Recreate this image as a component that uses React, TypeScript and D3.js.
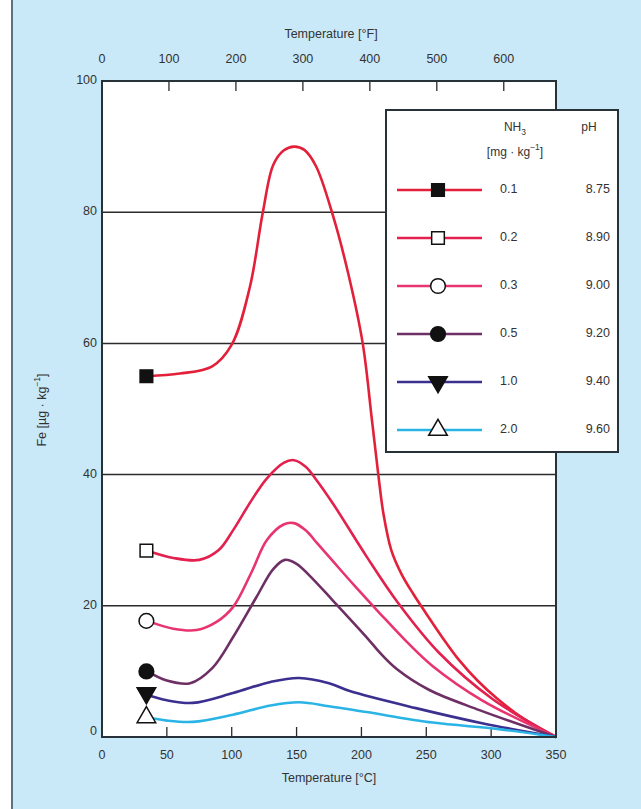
import { useEffect, useRef } from 'react';
import * as d3 from 'd3';

// temperature in °C, Fe in µg/kg
const series01: [number, number][] = [
  [35, 55], [60, 55.4], [85, 56.5], [100, 59.8], [114, 68.6], [124, 80], [132, 87.2],
  [140, 89.4], [148, 90], [156, 89.5], [165, 87], [178, 79.5], [190, 70.5], [201, 60],
  [208, 48.5], [213, 40], [217, 34], [223, 28.5], [231, 24.8], [240, 21.8], [250, 18.8],
  [262, 15.3], [275, 11.8], [290, 8.5], [305, 5.8], [325, 2.8], [350, 0],
];
const series02: [number, number][] = [
  [35, 28.4], [55, 27.3], [75, 27], [90, 28.5], [101, 31.5], [115, 36], [127, 39.4],
  [140, 41.8], [148, 42.2], [157, 41.2], [166, 39], [178, 35.6], [204, 27.5], [228, 20.5],
  [260, 12.8], [301, 5.8], [350, 0],
];
const series03: [number, number][] = [
  [35, 17.7], [55, 16.5], [73, 16.3], [88, 17.5], [101, 19.8], [115, 25], [127, 30],
  [140, 32.4], [148, 32.6], [157, 31.5], [166, 29.5], [178, 26.8], [195, 23], [214, 18.9],
  [235, 14.5], [255, 10.8], [293, 5.6], [350, 0],
];
const series05: [number, number][] = [
  [35, 10], [50, 8.6], [68, 8.2], [85, 10.5], [101, 15.2], [119, 21.3], [132, 25.6],
  [141, 27], [150, 26.4], [160, 24.6], [178, 20.8], [204, 15.2], [214, 12.9], [227, 10.4],
  [252, 7.2], [291, 4.1], [350, 0],
];
const series10: [number, number][] = [
  [35, 6.4], [50, 5.6], [70, 5.2], [101, 6.7], [130, 8.4], [152, 9], [175, 8.2],
  [191, 7], [242, 4.4], [293, 2.1], [350, 0],
];
const series20: [number, number][] = [
  [35, 3], [50, 2.5], [70, 2.3], [101, 3.4], [130, 4.8], [152, 5.3], [175, 4.7],
  [204, 3.8], [255, 2.2], [306, 1.2], [350, 0],
];

const nh3Labels = ['0.1', '0.2', '0.3', '0.5', '1.0', '2.0'];
const phLabels = ['8.75', '8.90', '9.00', '9.20', '9.40', '9.60'];
const celsiusTicks = [0, 50, 100, 150, 200, 250, 300, 350];
const fahrenheitTicks = [0, 100, 200, 300, 400, 500, 600];
const feTicks = [0, 20, 40, 60, 80, 100];

const FONT = '"Liberation Sans", Arial, sans-serif';

const App = () => {
  const ref = useRef<SVGSVGElement | null>(null);

  useEffect(() => {
    const svg = d3.select(ref.current);
    svg.selectAll('*').remove();

    const W = 641;
    const H = 809;
    const left = 102, right = 556, top = 81, bottom = 737;

    // figure background
    svg.append('rect').attr('width', W).attr('height', H).attr('fill', '#c9e9f9');
    svg.append('rect').attr('width', 11).attr('height', H).attr('fill', '#ffffff');
    svg.append('line').attr('x1', 12).attr('x2', 12).attr('y1', 0).attr('y2', H)
      .attr('stroke', '#3a4a50').attr('stroke-width', 1.5);

    const x = d3.scaleLinear().domain([0, 350]).range([left, right]);
    const xF = d3.scaleLinear().domain([0, 678]).range([left, right]);
    const y = d3.scaleLinear().domain([0, 100]).range([bottom, top]);

    svg.append('rect')
      .attr('x', left).attr('y', top)
      .attr('width', right - left).attr('height', bottom - top)
      .attr('fill', '#ffffff');

    // horizontal grid
    svg.append('g')
      .selectAll('line')
      .data(feTicks.filter((d) => d > 0 && d < 100))
      .enter()
      .append('line')
      .attr('x1', left).attr('x2', right)
      .attr('y1', (d) => y(d)).attr('y2', (d) => y(d))
      .attr('stroke', '#2b2b2b').attr('stroke-width', 1.5);

    // inward ticks
    svg.append('g')
      .selectAll('line')
      .data(celsiusTicks.filter((d) => d > 0 && d < 350))
      .enter()
      .append('line')
      .attr('x1', (d) => x(d)).attr('x2', (d) => x(d))
      .attr('y1', bottom).attr('y2', bottom - 10)
      .attr('stroke', '#2b2b2b').attr('stroke-width', 1.3);

    svg.append('g')
      .selectAll('line')
      .data(fahrenheitTicks.filter((d) => d > 0))
      .enter()
      .append('line')
      .attr('x1', (d) => xF(d)).attr('x2', (d) => xF(d))
      .attr('y1', top).attr('y2', top + 10)
      .attr('stroke', '#2b2b2b').attr('stroke-width', 1.3);

    const colors = ['#e3203a', '#e2214f', '#e8356f', '#6e2f64', '#3b2f8f', '#2ab4e6'];
    const allSeries = [series01, series02, series03, series05, series10, series20];

    const line = d3.line<[number, number]>()
      .x((d) => x(d[0]))
      .y((d) => y(d[1]))
      .curve(d3.curveCatmullRom.alpha(0.5));

    const curves = svg.append('g');
    allSeries.forEach((s, i) => {
      curves.append('path')
        .attr('d', line(s))
        .attr('fill', 'none')
        .attr('stroke', colors[i])
        .attr('stroke-width', 2.6);
    });

    // frame
    svg.append('rect')
      .attr('x', left).attr('y', top)
      .attr('width', right - left).attr('height', bottom - top)
      .attr('fill', 'none').attr('stroke', '#263238').attr('stroke-width', 2);

    const markerPath = (i: number) => {
      const types = [d3.symbolSquare, d3.symbolSquare, d3.symbolCircle, d3.symbolCircle, d3.symbolTriangle, d3.symbolTriangle];
      const sizes = [160, 160, 170, 170, 150, 150];
      return d3.symbol().type(types[i]).size(sizes[i])() as string;
    };
    const markerFill = ['#111', '#fff', '#fff', '#111', '#111', '#fff'];
    const markerRot = [0, 0, 0, 0, 180, 0];

    const drawMarker = (g: any, i: number, cx: number, cy: number) => {
      g.append('path')
        .attr('d', markerPath(i))
        .attr('transform', `translate(${cx},${cy}) rotate(${markerRot[i]})`)
        .attr('fill', markerFill[i])
        .attr('stroke', '#111')
        .attr('stroke-width', 1.5);
    };

    const markers = svg.append('g');
    allSeries.forEach((s, i) => {
      const cy = i === 4 ? y(s[0][1]) - 2 : y(s[0][1]);
      drawMarker(markers, i, x(s[0][0]) - 1, cy);
    });

    // axis labels
    const text = (tx: number, ty: number, str: string, anchor = 'middle', size = 12.5) =>
      svg.append('text')
        .attr('x', tx).attr('y', ty)
        .attr('text-anchor', anchor)
        .attr('dominant-baseline', 'middle')
        .attr('font-family', FONT)
        .attr('font-size', size)
        .attr('fill', '#333')
        .text(str);

    celsiusTicks.forEach((d) => text(x(d), 756, String(d)));
    fahrenheitTicks.forEach((d) => text(xF(d), 60, String(d)));
    feTicks.forEach((d) => text(97, y(d) - (d === 0 ? 5 : 0), String(d), 'end'));

    text(329, 779, 'Temperature [°C]');
    text(331, 35, 'Temperature [°F]');

    const yl = svg.append('text')
      .attr('transform', 'translate(43,410) rotate(-90)')
      .attr('text-anchor', 'middle')
      .attr('dominant-baseline', 'middle')
      .attr('font-family', FONT)
      .attr('font-size', 12.5)
      .attr('fill', '#333');
    yl.append('tspan').text('Fe [µg · kg');
    yl.append('tspan').attr('baseline-shift', 'super').attr('font-size', 8.5).text('−1');
    yl.append('tspan').text(']');

    // legend
    const lg = svg.append('g');
    lg.append('rect')
      .attr('x', 386).attr('y', 110).attr('width', 232).attr('height', 342)
      .attr('fill', '#ffffff').attr('stroke', '#263238').attr('stroke-width', 2);

    const nh3 = lg.append('text')
      .attr('x', 515).attr('y', 128)
      .attr('text-anchor', 'middle').attr('dominant-baseline', 'middle')
      .attr('font-family', FONT).attr('font-size', 12).attr('fill', '#333');
    nh3.append('tspan').text('NH');
    nh3.append('tspan').attr('baseline-shift', 'sub').attr('font-size', 8.5).text('3');

    const unit = lg.append('text')
      .attr('x', 515).attr('y', 153)
      .attr('text-anchor', 'middle').attr('dominant-baseline', 'middle')
      .attr('font-family', FONT).attr('font-size', 12).attr('fill', '#333');
    unit.append('tspan').text('[mg · kg');
    unit.append('tspan').attr('baseline-shift', 'super').attr('font-size', 8.5).text('−1');
    unit.append('tspan').text(']');

    lg.append('text')
      .attr('x', 589).attr('y', 128)
      .attr('text-anchor', 'middle').attr('dominant-baseline', 'middle')
      .attr('font-family', FONT).attr('font-size', 12).attr('fill', '#333')
      .text('pH');

    const rowY = d3.scalePoint<string>().domain(nh3Labels).range([190, 430]);
    nh3Labels.forEach((lab, i) => {
      const ry = rowY(lab) as number;
      lg.append('line')
        .attr('x1', 397).attr('x2', 482).attr('y1', ry).attr('y2', ry)
        .attr('stroke', colors[i]).attr('stroke-width', 2.6);
      drawMarker(lg, i, 438, ry);
      lg.append('text')
        .attr('x', 500).attr('y', ry)
        .attr('dominant-baseline', 'middle')
        .attr('font-family', FONT).attr('font-size', 12.5).attr('fill', '#333')
        .text(lab);
      lg.append('text')
        .attr('x', 610).attr('y', ry)
        .attr('text-anchor', 'end')
        .attr('dominant-baseline', 'middle')
        .attr('font-family', FONT).attr('font-size', 12.5).attr('fill', '#333')
        .text(phLabels[i]);
    });
  }, []);

  return (
    <svg
      ref={ref}
      width={641}
      height={809}
      style={{ position: 'absolute', left: 0, top: 0, display: 'block' }}
    />
  );
};

export default App;
